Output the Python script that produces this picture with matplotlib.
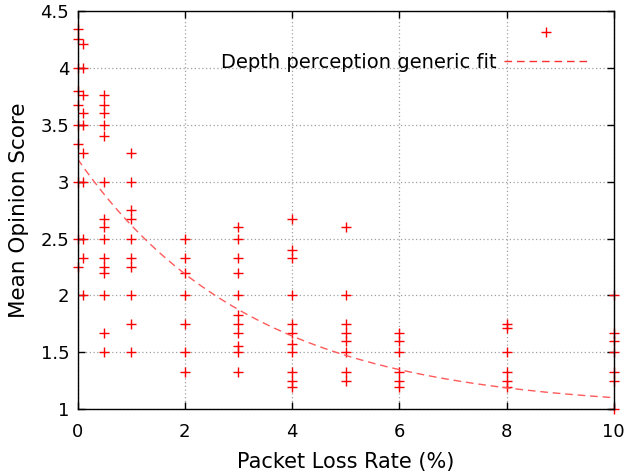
import numpy as np
import matplotlib
matplotlib.use("Agg")
import matplotlib.pyplot as plt
from matplotlib.lines import Line2D

# MOS ratings per packet loss rate (%)
loss_0 = [4.34, 4.25, 4.0, 3.8, 3.67, 3.5, 3.33, 3.0, 2.5, 2.25]
loss_01 = [4.21, 4.0, 3.76, 3.6, 3.5, 3.25, 3.0, 2.5, 2.33, 2.0]
loss_05 = [3.76, 3.67, 3.6, 3.5, 3.4, 3.0, 2.67, 2.6, 2.5, 2.33, 2.25, 2.2, 2.0, 1.67, 1.5]
loss_1 = [3.25, 3.0, 2.75, 2.67, 2.5, 2.33, 2.25, 2.0, 1.75, 1.5]
loss_2 = [2.5, 2.33, 2.2, 2.0, 1.75, 1.5, 1.33]
loss_3 = [2.6, 2.5, 2.33, 2.2, 2.0, 1.83, 1.75, 1.67, 1.56, 1.5, 1.33]
loss_4 = [2.67, 2.4, 2.33, 2.0, 1.75, 1.67, 1.57, 1.5, 1.33, 1.25, 1.2]
loss_5 = [2.6, 2.0, 1.75, 1.67, 1.6, 1.5, 1.33, 1.25]
loss_6 = [1.67, 1.6, 1.5, 1.33, 1.25, 1.2]
loss_8 = [1.75, 1.71, 1.5, 1.33, 1.25, 1.2]
loss_10 = [2.0, 1.67, 1.6, 1.5, 1.33, 1.25, 1.0]

rates = [0, 0.1, 0.5, 1, 2, 3, 4, 5, 6, 8, 10]
scores = [loss_0, loss_01, loss_05, loss_1, loss_2, loss_3, loss_4,
          loss_5, loss_6, loss_8, loss_10]

# generic fit: a + b * exp(-c * x)
FIT_A = 1.0
FIT_B = 2.2
FIT_C = 0.307

xs = []
ys = []
for r, s in zip(rates, scores):
    xs += [r] * len(s)
    ys += s

fig = plt.figure(figsize=(6.25, 4.74), dpi=100)
ax = fig.add_axes([0.124, 0.1365, 0.858, 0.8405])

ax.grid(True, color='#a0a0a0', linestyle=(0, (1, 2)), linewidth=0.9)
ax.set_axisbelow(True)

ax.plot(xs, ys, linestyle='none', marker='+', color='red',
        markersize=7, markeredgewidth=1.0, clip_on=False, zorder=2)

xf = np.linspace(0, 10, 200)
yf = FIT_A + FIT_B * np.exp(-FIT_C * xf)
ax.plot(xf, yf, color='#ff5a5a', linewidth=1.0, dashes=(5.5, 3.5), zorder=2)

ax.set_xlim(0, 10)
ax.set_ylim(1, 4.5)
ax.set_xticks([0, 2, 4, 6, 8, 10])
ax.set_yticks([1, 1.5, 2, 2.5, 3, 3.5, 4, 4.5])
ax.set_yticklabels(['1', '1.5', '2', '2.5', '3', '3.5', '4', '4.5'])
ax.tick_params(direction='in', length=5, width=1, labelsize=13,
               top=True, right=True)
ax.tick_params(axis='x', pad=10)
ax.tick_params(axis='y', pad=6)
for sp in ax.spines.values():
    sp.set_linewidth(1.0)

ax.set_xlabel('Packet Loss Rate (%)', fontsize=15, labelpad=8)
ax.set_ylabel('Mean Opinion Score', fontsize=15.5, labelpad=8)

handles = [Line2D([], [], linestyle='none', marker='+', color='red',
                  markersize=7, markeredgewidth=1.0),
           Line2D([], [], color='#ff3030', linewidth=1.0, dashes=(5.5, 3.5))]
ax.legend(handles, [' ', 'Depth perception generic fit'], loc='upper right',
          bbox_to_anchor=(0.9515, 0.967), borderaxespad=0, borderpad=0,
          frameon=False, markerfirst=False, fontsize=14, handlelength=4.3,
          handletextpad=0.4, labelspacing=0.5)

fig.savefig('out.png', dpi=100)
